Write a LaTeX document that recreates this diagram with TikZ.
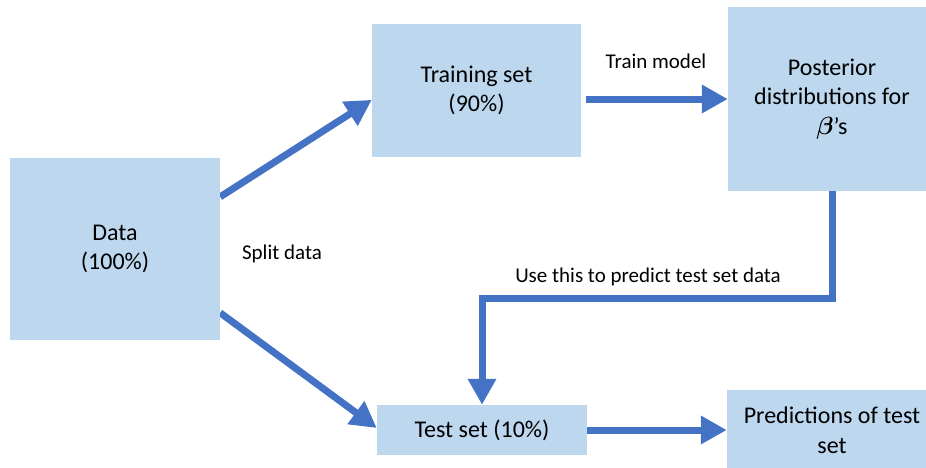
\documentclass[tikz,border=0pt]{standalone}
\usepackage{amsmath}
\usepackage{amssymb}
\usepackage{xcolor}
\usepackage{fontspec}
\setmainfont{Carlito}
\usepackage{tikz}
\usetikzlibrary{arrows.meta,calc,backgrounds}
\definecolor{boxblue}{HTML}{BDD7EE}
\definecolor{arrowblue}{HTML}{4472C4}
\tikzset{
  block/.style={fill=boxblue,inner sep=0pt,align=center,font=\fontsize{24}{29.5}\selectfont},
  flow/.style={draw=arrowblue,line width=7pt,-{Triangle[length=26pt,width=27pt]}},
  lbl/.style={font=\fontsize{21}{25}\selectfont}
}
\begin{document}
\begin{tikzpicture}[x=1pt,y=-1pt]
			% 画布大小
			\useasboundingbox (0,0) rectangle (926,467);
			% 方框
			\node[block,minimum width=210pt,minimum height=182pt] (data) at (115,249) {Data\\(100\%)};
			\node[block,minimum width=209pt,minimum height=133pt] (train) at (476.5,90.5) {Training set\\(90\%)};
			\node[block,minimum width=208pt,minimum height=184pt] (post) at (832,99) {Posterior\\distributions for\\$\boldsymbol{\beta}$’s};
			\node[block,minimum width=210pt,minimum height=50pt] (test) at (482,430) {Test set (10\%)};
			\node[block,minimum width=210pt,minimum height=80pt] (pred) at (832,430) {Predictions of test\\set};
			% 箭头
			\begin{scope}[on background layer]
			\draw[flow] ($(data.north east)!0.214!(data.south east)$) -- ($(train.north west)!0.57!(train.south west)$);
			\draw[flow] ($(data.north east)!0.85!(data.south east)$) -- ($(test.north west)!0.46!(test.south west)$);
			\draw[flow,shorten <=5pt] (train.east |- post.west) -- (post.west);
			\coordinate (bend) at (832,298);
			\draw[flow] (post.south) -- (bend) -| (test.north);
			\draw[flow] (test.east) -- (pred.west);
			\end{scope}
			% 写文字
			\node[lbl] (split) at (282,254) {Split data};
			\node[lbl] (fit) at (656,61) {Train model};
			\node[lbl] (use) at (648,277) {Use this to predict test set data};
\end{tikzpicture}
\end{document}
